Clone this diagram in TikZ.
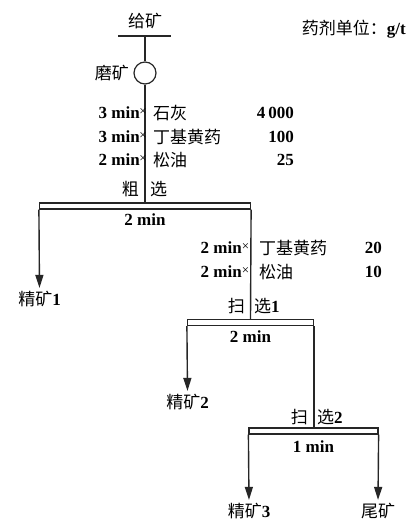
\documentclass[tikz,border=0pt]{standalone}
\usepackage{fontspec}
\setmainfont{Liberation Serif}
\newfontfamily\cjk{Noto Sans CJK SC}
\usetikzlibrary{arrows.meta}
\newcommand{\zh}[1]{{\cjk\mdseries #1}}
\begin{document}
\begin{tikzpicture}[x=1pt,y=-1pt,
  flow/.style={line width=1.4pt, draw=black!85},
  barbox/.style={draw=black!85, line width=1.2pt, rectangle, minimum height=6pt, inner sep=0pt},
  arr/.style={flow, -{Triangle[length=13pt,width=8pt]}, shorten >=3pt},
  txt/.style={inner sep=0pt, font=\fontsize{17}{19}\selectfont\bfseries},
  xmark/.style={inner sep=0pt, font=\fontsize{13}{13}\selectfont}
]
\useasboundingbox (0,0) rectangle (409,521);

% title
\node[txt, anchor=east] (unit) at (406,29) {\zh{药剂单位：}g/t};

% feed
\node[txt] (feed) at (145,21) {\zh{给矿}};
\coordinate (fl) at (118,36);
\coordinate (fr) at (171,36);
\coordinate (fm) at (145,36);
\draw[flow] (fl) -- (fr);
\node[draw=black!85, line width=1.2pt, circle, minimum size=22pt, inner sep=0pt] (mill) at (145,73) {};
\node[txt, anchor=east] (millt) at (129,73) {\zh{磨矿}};
\draw[flow] (fm) -- (mill);

% rougher
\node[barbox, minimum width=211pt] (bar1) at (145,206) {};
\draw[flow] (mill) -- (bar1);
\node[txt, anchor=east] (r1a) at (140,113) {3 min};
\node[xmark] (r1x) at (143,112) {×};
\node[txt, anchor=west] (r1b) at (153,113) {\zh{石灰}};
\node[txt, anchor=east] (r1c) at (294,113) {4\,000};
\node[txt, anchor=east] (r2a) at (140,137) {3 min};
\node[xmark] (r2x) at (143,136) {×};
\node[txt, anchor=west] (r2b) at (153,137) {\zh{丁基黄药}};
\node[txt, anchor=east] (r2c) at (294,137) {100};
\node[txt, anchor=east] (r3a) at (140,160) {2 min};
\node[xmark] (r3x) at (143,159) {×};
\node[txt, anchor=west] (r3b) at (153,160) {\zh{松油}};
\node[txt, anchor=east] (r3c) at (294,160) {25};
\node[txt, anchor=east] (c1) at (139,189) {\zh{粗}};
\node[txt, anchor=west] (c2) at (150,189) {\zh{选}};
\node[txt] (t1) at (145,220) {2 min};
\node[txt] (k1) at (39.5,299) {\zh{精矿}1};
\draw[arr] (bar1.south west) -- (k1.north);

% scavenger 1
\node[barbox, minimum width=126pt] (bar2) at (250.5,322.5) {};
\draw[flow] (bar1.south east) -- (bar2.north);
\node[txt, anchor=east] (s1a) at (242,248) {2 min};
\node[xmark] (s1x) at (245.5,247) {×};
\node[txt, anchor=west] (s1b) at (259,248) {\zh{丁基黄药}};
\node[txt, anchor=east] (s1c) at (382,248) {20};
\node[txt, anchor=east] (s2a) at (242,272) {2 min};
\node[xmark] (s2x) at (245.5,271) {×};
\node[txt, anchor=west] (s2b) at (259,272) {\zh{松油}};
\node[txt, anchor=east] (s2c) at (382,272) {10};
\node[txt, anchor=east] (d1) at (245,306) {\zh{扫}};
\node[txt, anchor=west] (d2) at (254,306) {\zh{选}1};
\node[txt] (t2) at (250.5,337) {2 min};
\node[txt] (k2) at (187.5,402) {\zh{精矿}2};
\draw[arr] (bar2.south west) -- (k2.north);

% scavenger 2
\node[barbox, minimum width=129pt] (bar3) at (313.5,431) {};
\draw[flow] (bar2.south east) -- (bar2.south east |- bar3.north);
\node[txt, anchor=east] (e1) at (308,417) {\zh{扫}};
\node[txt, anchor=west] (e2) at (317,417) {\zh{选}2};
\node[txt] (t3) at (313.5,447) {1 min};
\node[txt] (k3) at (249,511) {\zh{精矿}3};
\node[txt] (tail) at (378,511) {\zh{尾矿}};
\draw[arr] (bar3.south west) -- (k3.north);
\draw[arr] (bar3.south east) -- (tail.north);
\end{tikzpicture}
\end{document}
